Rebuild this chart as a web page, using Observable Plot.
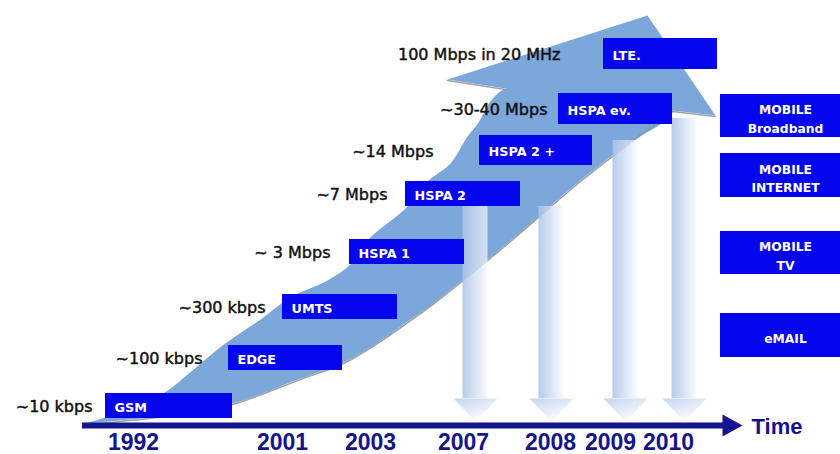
<!DOCTYPE html>
<html>
<head>
<meta charset="utf-8">
<script src="https://cdn.jsdelivr.net/npm/d3@7"></script>
<script src="https://cdn.jsdelivr.net/npm/@observablehq/plot@0.6"></script>
<style>
  html, body { margin: 0; padding: 0; background: #ffffff; }
  #chart { width: 840px; height: 454px; overflow: hidden; }
</style>
</head>
<body>
<div id="chart"></div>
<script>
// ---- content ----
const technologies = ["GSM", "EDGE", "UMTS", "HSPA 1", "HSPA 2", "HSPA 2 +", "HSPA ev.", "LTE."];
const rates = ["~10 kbps", "~100 kbps", "~300 kbps", "~ 3 Mbps", "~7 Mbps", "~14 Mbps", "~30-40 Mbps", "100 Mbps in 20 MHz"];
const years = ["1992", "2001", "2003", "2007", "2008", "2009", "2010"];
const serviceYears = ["2007", "2008", "2009", "2010"];
const services = ["MOBILE\nBroadband", "MOBILE\nINTERNET", "MOBILE\nTV", "eMAIL"];
const axisTitle = "Time";

// ---- layout (pixel positions on an identity scale) ----
const boxLeft = [105, 228, 282, 349, 405, 479, 558, 603];
const boxRight = [232, 342, 397, 464, 520, 592, 672, 717];
const boxTop = [393, 345, 294, 239, 181, 135, 93, 38];
const boxBottom = [418, 370, 319, 264, 206, 165, 124, 69];
const rateRight = [92, 202, 265, 330, 387, 433, 547, 560];
const yearX = [133, 282, 370, 463, 550, 610, 668];
const dropX = [475, 551, 625, 684];
const dropTop = [206, 206, 140, 118];
const serviceTop = [94, 153, 231, 313];
const serviceBottom = [137, 197, 274, 357];
const serviceLeft = 720, serviceRight = 850, serviceCenter = 785;
const axisY = 425, axisStart = 82, axisEnd = 724, axisTip = 742;

// outline of the large rising arrow
const arrowUpper = [[88,422],[130,409],[163,393],[192,370],[222,345],[260,319],[290,297],[327,280],[350,264],[367,240],[407,206],[427,181],[450,163],[467,136],[478,122],[490,101],[505,88]];
const arrowLower = [[672,110],[625,145],[580,180],[510,240],[440,297],[420,312],[380,340],[343,362],[300,378],[232,403],[180,413],[120,420],[88,423]];
const arrowHead = [[447,79],[647,15],[715,115],[672,110],[505,88]];

// ---- derived tables ----
const boxes = technologies.map((name, i) => ({
  name, rate: rates[i],
  x1: boxLeft[i], x2: boxRight[i], y1: boxTop[i], y2: boxBottom[i],
  cy: (boxTop[i] + boxBottom[i]) / 2, rx: rateRight[i]
}));
const serviceBoxes = services.map((label, i) => ({
  label, y1: serviceTop[i], y2: serviceBottom[i], cy: (serviceTop[i] + serviceBottom[i]) / 2
}));
const yearLabels = years.map((year, i) => ({year, x: yearX[i]}));
const drops = serviceYears.map((year, i) => ({year, cx: dropX[i], top: dropTop[i]}));
const dropHeads = drops.flatMap(d => [
  {year: d.year, x: d.cx - 22, y: 398},
  {year: d.year, x: d.cx, y: 421},
  {year: d.year, x: d.cx + 22, y: 398}
]);
const shaftOutline = [...arrowUpper, [590, 72], ...arrowLower];
const axisHead = [[axisEnd - 2, axisY - 11], [axisTip, axisY], [axisEnd - 2, axisY + 11]];

const navy = "#14148e";
const boxBlue = "#0606ee";
const arrowBlue = "#7ba7db";
const shadow = "#8e9296";
const font = "DejaVu Sans, Verdana, sans-serif";
const heavyFont = "Liberation Sans, Arial, sans-serif";

const chart = Plot.plot({
  width: 840,
  height: 454,
  margin: 0,
  x: {type: "linear", domain: [0, 840], range: [0, 840], axis: null},
  y: {type: "linear", domain: [0, 454], range: [0, 454], axis: null},
  style: {fontFamily: font, background: "#ffffff", overflow: "hidden"},
  marks: [
    // large rising arrow
    Plot.line(shaftOutline, {x: d => d[0], y: d => d[1], curve: "catmull-rom", fill: arrowBlue, stroke: "none"}),
    Plot.line(arrowHead, {x: d => d[0], y: d => d[1], curve: "linear", fill: arrowBlue, stroke: "none"}),
    Plot.line(arrowLower, {x: d => d[0], y: d => d[1], curve: "catmull-rom", stroke: shadow, strokeWidth: 1.6, dy: 1, strokeOpacity: 0.85}),
    Plot.line([[447,79],[505,88]], {x: d => d[0], y: d => d[1], stroke: shadow, strokeWidth: 1.6, dy: 1, strokeOpacity: 0.85}),
    Plot.line([[672,110],[715,115]], {x: d => d[0], y: d => d[1], stroke: shadow, strokeWidth: 1.6, dy: 1, strokeOpacity: 0.85}),

    // fading arrows dropping to the service years
    Plot.rect(drops, {x1: d => d.cx - 12.5, x2: d => d.cx + 12.5, y1: "top", y2: 398, fill: "url(#shaftGrad)"}),
    Plot.line(dropHeads, {x: "x", y: "y", z: "year", curve: "linear", fill: "url(#headGrad)", stroke: "none"}),

    // time axis
    Plot.ruleY([axisY], {x1: axisStart, x2: axisEnd, stroke: navy, strokeWidth: 6}),
    Plot.line(axisHead, {x: d => d[0], y: d => d[1], fill: navy, stroke: "none"}),
    Plot.text([axisTitle], {x: axisTip + 9, y: axisY, dy: 1, text: d => d, textAnchor: "start", fill: navy, fontWeight: "bold", fontSize: 22, fontFamily: heavyFont}),
    Plot.text(yearLabels, {x: "x", y: 449, text: "year", lineAnchor: "bottom", fill: navy, fontWeight: "bold", fontSize: 23, fontFamily: heavyFont}),

    // technology boxes and their data rates
    Plot.rect(boxes, {x1: "x1", x2: "x2", y1: "y1", y2: "y2", fill: boxBlue}),
    Plot.text(boxes, {x: d => d.x1 + 9, y: "cy", dy: 1.5, text: "name", textAnchor: "start", fill: "white", fontWeight: "bold", fontSize: 12.8}),
    Plot.text(boxes, {x: "rx", y: "cy", dy: 1, text: "rate", textAnchor: "end", fill: "#111111", stroke: "#111111", strokeWidth: 0.45, fontSize: 16}),

    // services column
    Plot.rect(serviceBoxes, {x1: serviceLeft, x2: serviceRight, y1: "y1", y2: "y2", fill: boxBlue}),
    Plot.text(serviceBoxes, {x: serviceCenter, y: "cy", dy: 1.5, text: "label", lineHeight: 1.5, fill: "white", fontWeight: "bold", fontSize: 12.3})
  ]
});

// gradients used by the dropping arrows
const defs = d3.select(chart).insert("defs", ":first-child");
const shaft = defs.append("linearGradient").attr("id", "shaftGrad").attr("x1", 0).attr("y1", 0).attr("x2", 1).attr("y2", 0);
shaft.append("stop").attr("offset", "0%").attr("stop-color", "#a9c2e6").attr("stop-opacity", 0.85);
shaft.append("stop").attr("offset", "45%").attr("stop-color", "#cbdaf0").attr("stop-opacity", 0.8);
shaft.append("stop").attr("offset", "100%").attr("stop-color", "#f6f9fd").attr("stop-opacity", 0.7);
const head = defs.append("linearGradient").attr("id", "headGrad").attr("x1", 0).attr("y1", 0).attr("x2", 0.6).attr("y2", 1);
head.append("stop").attr("offset", "0%").attr("stop-color", "#bfd2ee").attr("stop-opacity", 0.95);
head.append("stop").attr("offset", "100%").attr("stop-color", "#ffffff").attr("stop-opacity", 0.95);

document.getElementById("chart").appendChild(chart);
</script>
</body>
</html>
